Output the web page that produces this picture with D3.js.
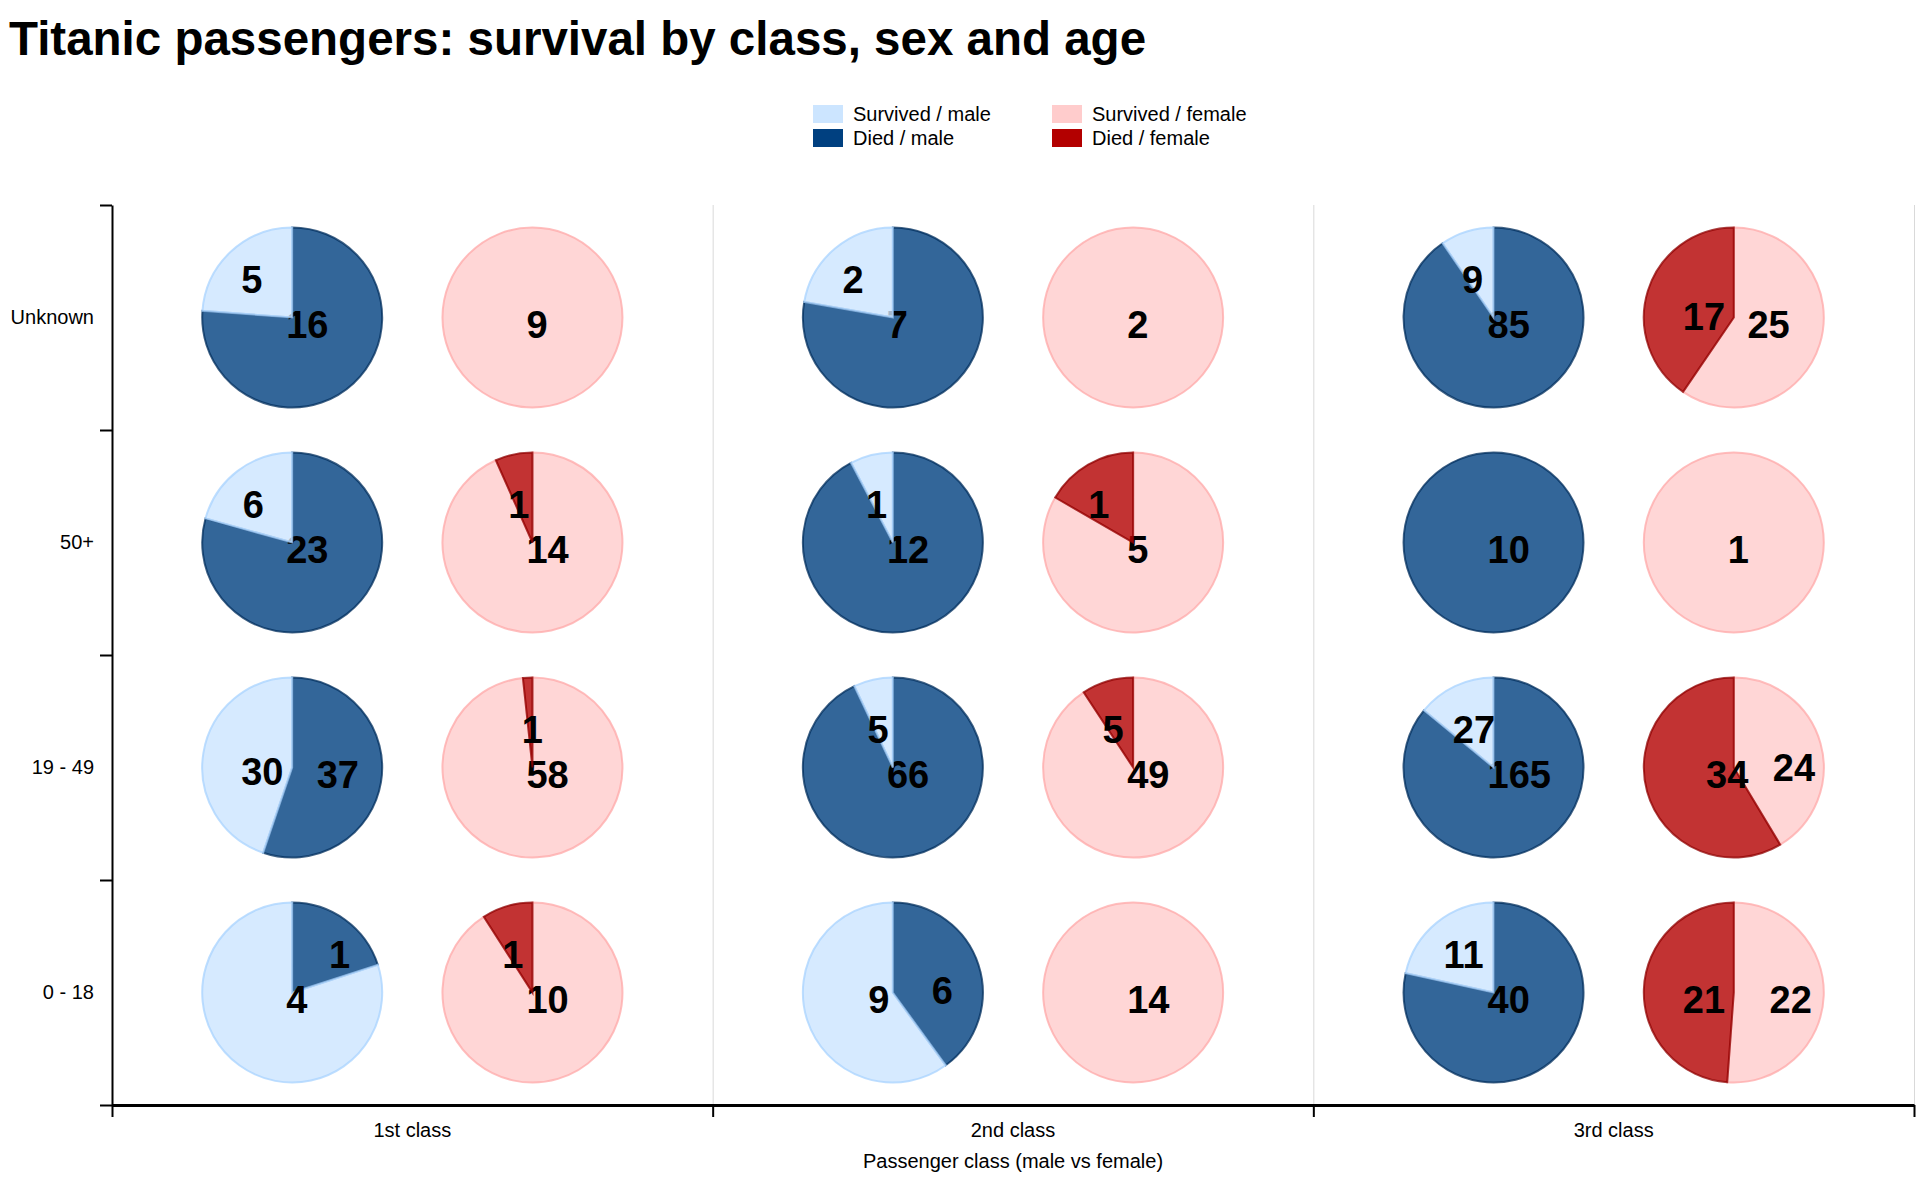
<!DOCTYPE html>
<html>
<head>
<meta charset="utf-8">
<script src="https://cdn.jsdelivr.net/npm/d3@7"></script>
<style>
  body { margin: 0; background: #fff; }
  text { font-family: 'Liberation Sans', Arial, Helvetica, sans-serif; }
</style>
</head>
<body>
<div class="chart"></div>
<script>
const w = 1926;
const h = 1178;

// rows of the grid, top to bottom
const ages = ['Unknown', '50+', '19 - 49', '0 - 18'];
const classes = ['1st class', '2nd class', '3rd class'];
const sexes = ['male', 'female'];

// counts per class, in the order of `ages`
const maleSurvived = [[5, 6, 30, 4], [2, 1, 5, 9], [9, 0, 27, 11]];
const maleDied = [[16, 23, 37, 1], [7, 12, 66, 6], [85, 10, 165, 40]];
const femaleSurvived = [[9, 14, 58, 10], [2, 5, 49, 14], [25, 1, 24, 22]];
const femaleDied = [[0, 1, 1, 1], [0, 1, 5, 0], [17, 0, 34, 21]];

const keys = ['Survived / male', 'Died / male', 'Survived / female', 'Died / female'];
const colors = ['#cce5ff', '#004080', '#ffcccc', '#b30000'];

const color = d3.scaleOrdinal(keys, colors);
const strokeOf = (k) => {
  const c = d3.hsl(color(k));
  c.l -= 0.07;
  return c.formatHex();
};

const svg = d3
  .select('.chart')
  .append('svg')
  .attr('width', w)
  .attr('height', h);

// title
svg
  .append('text')
  .attr('x', 9)
  .attr('y', 55)
  .attr('font-size', 47.5)
  .attr('font-weight', 'bold')
  .text('Titanic passengers: survival by class, sex and age');

// legend, male column then female column
const legend = svg
  .append('g')
  .selectAll('g')
  .data(keys)
  .enter()
  .append('g')
  .attr('transform', (d, i) => `translate(${813 + Math.floor(i / 2) * 239},${105 + (i % 2) * 24})`);
legend
  .append('rect')
  .attr('width', 30)
  .attr('height', 18)
  .attr('fill', (d) => color(d));
legend
  .append('text')
  .attr('x', 40)
  .attr('y', 16)
  .attr('font-size', 20)
  .text((d) => d);

// scales
const x = d3.scaleBand(classes, [112, 1914]);
const y = d3.scaleBand(ages, [205, 1105]);
const xSex = d3.scalePoint(sexes, [0, x.bandwidth()]).padding(0.75);
const xEdge = d3.scaleLinear([0, classes.length], x.range());
const yEdge = d3.scaleLinear([0, ages.length], y.range());
const r = y.bandwidth() * 0.4;

// vertical grid lines between classes
svg
  .append('g')
  .attr('transform', `translate(0,${y.range()[1]})`)
  .call(
    d3.axisBottom(xEdge)
      .tickValues(d3.range(1, classes.length + 1))
      .tickSize(-(y.range()[1] - y.range()[0]))
      .tickFormat('')
  )
  .call((g) => g.select('.domain').remove())
  .selectAll('line')
  .attr('stroke', '#d9d9d9');

// bottom axis: ticks at class edges, labels at class centres
svg
  .append('g')
  .attr('transform', `translate(0,${y.range()[1]})`)
  .call(
    d3.axisBottom(xEdge)
      .tickValues(d3.range(0, classes.length + 1))
      .tickSize(12)
      .tickSizeOuter(0)
      .tickFormat('')
  )
  .call((g) => g.select('.domain').attr('stroke-width', 3))
  .call((g) => g.selectAll('line').attr('stroke-width', 2));

svg
  .append('g')
  .attr('transform', `translate(0,${y.range()[1]})`)
  .call(d3.axisBottom(x).tickSize(0).tickPadding(18))
  .call((g) => g.select('.domain').remove())
  .selectAll('text')
  .attr('font-size', 20)
  .attr('font-family', null);

svg
  .append('text')
  .attr('x', (x.range()[0] + x.range()[1]) / 2)
  .attr('y', 1168)
  .attr('text-anchor', 'middle')
  .attr('font-size', 20)
  .text('Passenger class (male vs female)');

// left axis
svg
  .append('g')
  .attr('transform', `translate(${x.range()[0]},0)`)
  .call(
    d3.axisLeft(yEdge)
      .tickValues(d3.range(0, ages.length + 1))
      .tickSize(12)
      .tickSizeOuter(0)
      .tickFormat('')
  )
  .call((g) => g.select('.domain').attr('stroke-width', 2))
  .call((g) => g.selectAll('line').attr('stroke-width', 2));

svg
  .append('g')
  .attr('transform', `translate(${x.range()[0]},0)`)
  .call(d3.axisLeft(y).tickSize(0).tickPadding(18))
  .call((g) => g.select('.domain').remove())
  .selectAll('text')
  .attr('font-size', 20)
  .attr('font-family', null);

// one pie per class / age / sex
const cells = [];
classes.forEach((c, ci) => {
  ages.forEach((a, ai) => {
    cells.push({
      cls: c, age: a, sex: 'male',
      slices: [
        { key: 'Died / male', value: maleDied[ci][ai] },
        { key: 'Survived / male', value: maleSurvived[ci][ai] }
      ]
    });
    cells.push({
      cls: c, age: a, sex: 'female',
      slices: [
        { key: 'Survived / female', value: femaleSurvived[ci][ai] },
        { key: 'Died / female', value: femaleDied[ci][ai] }
      ]
    });
  });
});

const pie = d3.pie().sort(null).value((d) => d.value);
const arc = d3.arc().innerRadius(0).outerRadius(r);
const fontSize = 38;

const pies = svg
  .append('g')
  .selectAll('g')
  .data(cells)
  .enter()
  .append('g')
  .attr('transform', (d) => `translate(${x(d.cls) + xSex(d.sex)},${y(d.age) + y.bandwidth() / 2})`);

const slices = pies
  .selectAll('g')
  .data((d) => pie(d.slices.filter((s) => s.value > 0)))
  .enter()
  .append('g');

slices
  .append('path')
  .attr('d', arc)
  .attr('fill', (d) => color(d.data.key))
  .attr('fill-opacity', 0.8)
  .attr('stroke', (d) => strokeOf(d.data.key))
  .attr('stroke-opacity', 0.75)
  .attr('stroke-width', 2);

// labels sit at the centre of each slice's bounding box
slices.each(function (d) {
  const g = d3.select(this);
  const b = g.select('path').node().getBBox();
  g.append('text')
    .attr('x', b.x + b.width / 2 - 6)
    .attr('y', b.y + b.height / 2 - 7 + fontSize * 0.716)
    .attr('font-size', fontSize)
    .attr('font-weight', 'bold')
    .text(d.data.value);
});
</script>
</body>
</html>
